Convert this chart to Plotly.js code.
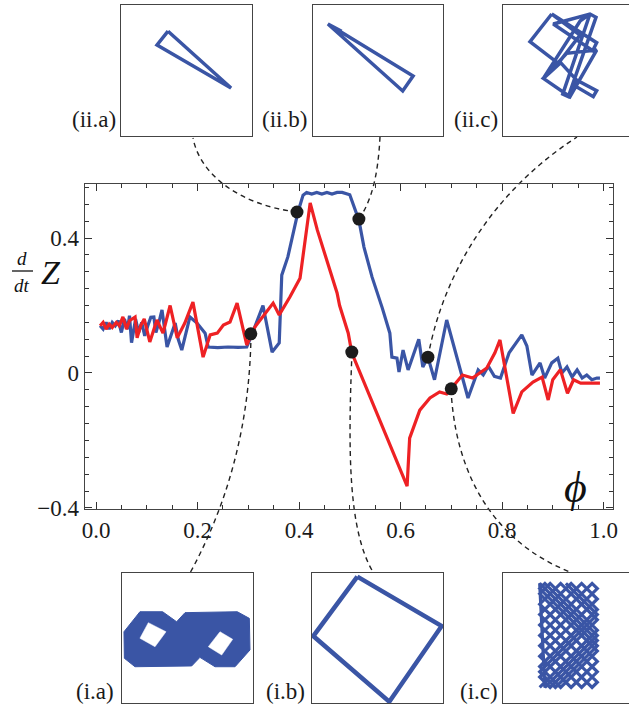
<!DOCTYPE html>
<html><head><meta charset="utf-8">
<script src="https://cdn.plot.ly/plotly-3.0.1.min.js"></script>
<style>html,body{margin:0;padding:0;background:#fff}#chart{width:629px;height:704px}</style>
</head><body><div id="chart"></div>
<script>
// ---- main series (phi, dZ/dt) ----
const phiBlue = [0.008,0.014,0.020,0.026,0.032,0.038,0.044,0.050,0.056,0.062,0.066,0.070,0.078,0.084,0.090,0.096,0.102,0.108,0.114,0.118,0.124,0.130,0.140,0.156,0.162,0.169,0.185,0.199,0.215,0.221,0.240,0.260,0.280,0.297,0.307,0.329,0.347,0.361,0.366,0.378,0.398,0.408,0.415,0.425,0.435,0.445,0.455,0.465,0.475,0.485,0.500,0.518,0.528,0.544,0.564,0.579,0.583,0.593,0.597,0.605,0.615,0.625,0.636,0.644,0.654,0.667,0.691,0.733,0.753,0.763,0.773,0.785,0.797,0.814,0.839,0.849,0.859,0.875,0.884,0.898,0.910,0.918,0.928,0.938,0.948,0.958,0.967,0.977,0.987,0.993];
const zBlue   = [0.140,0.130,0.150,0.130,0.150,0.140,0.155,0.120,0.160,0.130,0.170,0.090,0.160,0.120,0.150,0.110,0.140,0.165,0.166,0.120,0.150,0.187,0.077,0.148,0.100,0.068,0.166,0.148,0.118,0.077,0.075,0.077,0.076,0.077,0.113,0.200,0.062,0.089,0.290,0.344,0.477,0.527,0.535,0.530,0.535,0.530,0.535,0.530,0.535,0.535,0.528,0.453,0.373,0.284,0.193,0.118,0.047,0.044,0.003,0.068,0.009,0.053,0.100,0.018,0.047,-0.020,0.157,-0.074,0.009,-0.006,0.020,-0.010,-0.015,0.060,0.113,0.080,-0.006,0.030,-0.015,0.030,0.044,0.000,0.018,-0.012,0.009,-0.015,-0.006,-0.020,-0.015,-0.015];
const phiRed  = [0.008,0.014,0.020,0.026,0.032,0.040,0.046,0.053,0.060,0.066,0.077,0.081,0.088,0.095,0.106,0.120,0.132,0.146,0.160,0.175,0.191,0.199,0.211,0.225,0.239,0.251,0.264,0.278,0.297,0.313,0.349,0.361,0.382,0.402,0.422,0.436,0.455,0.475,0.480,0.497,0.504,0.526,0.613,0.618,0.638,0.658,0.677,0.691,0.703,0.722,0.742,0.770,0.786,0.796,0.822,0.839,0.861,0.879,0.891,0.900,0.915,0.929,0.941,0.955,0.969,0.993];
const zRed    = [0.140,0.150,0.130,0.145,0.135,0.150,0.140,0.166,0.130,0.155,0.166,0.104,0.140,0.160,0.092,0.157,0.118,0.200,0.104,0.148,0.210,0.148,0.047,0.113,0.118,0.142,0.151,0.207,0.083,0.136,0.207,0.172,0.225,0.281,0.504,0.424,0.335,0.237,0.200,0.118,0.060,-0.021,-0.335,-0.193,-0.110,-0.074,-0.056,-0.062,-0.041,-0.006,-0.015,0.015,0.060,0.098,-0.120,-0.056,-0.027,-0.012,-0.080,-0.020,0.010,-0.060,-0.020,-0.030,-0.030,-0.030];
// highlighted states
const dotPhi = [0.396,0.518,0.305,0.504,0.654,0.700];
const dotZ   = [0.477,0.456,0.116,0.062,0.047,-0.047];
// inset labels
const insetLabels = ['(ii.a)','(ii.b)','(ii.c)','(i.a)','(i.b)','(i.c)'];
// inset trajectories (box units)
const iiaU = [0.359,0.275,0.840,0.359];
const iiaV = [0.800,0.695,0.366,0.800];
const iibU = [0.115,0.770,0.690,0.115,0.220];
const iibV = [0.855,0.458,0.344,0.855,0.800];
const iicU = [0.372,0.206,0.422,0.588,0.372,0.715,0.685,0.384,0.664,0.710,0.499,0.456,0.664,0.590,0.308,0.486,0.715,0.511,0.308,0.440,0.562,0.715,0.689,0.537,0.562];
const iicV = [0.931,0.720,0.555,0.771,0.931,0.712,0.651,0.855,0.931,0.906,0.300,0.320,0.931,0.880,0.440,0.631,0.656,0.300,0.440,0.560,0.427,0.346,0.300,0.389,0.427];
const iaOuterU = [0.015,0.137,0.310,0.417,0.481,0.880,0.972,0.977,0.863,0.710,0.595,0.532,0.099,0.018,0.015];
const iaOuterV = [0.548,0.702,0.702,0.625,0.695,0.702,0.651,0.408,0.279,0.279,0.351,0.285,0.279,0.344,0.548];
const iaHole1U = [0.201,0.336,0.252,0.137,0.201];
const iaHole1V = [0.618,0.548,0.433,0.498,0.618];
const iaHole2U = [0.748,0.845,0.761,0.659,0.748];
const iaHole2V = [0.548,0.490,0.369,0.433,0.548];
const ibU = [0.346,0.990,0.590,0.010,0.346];
const ibV = [0.972,0.592,0.010,0.515,0.972];
const icU = [0.28,0.72,0.36,0.28,0.72,0.44,0.28,0.72,0.52,0.28,0.72,0.60,0.28,0.72,0.68,0.28,0.68,0.72,0.28,0.60,0.72,0.28,0.52,0.72,0.28,0.44,0.72,0.28,0.36,0.72,0.28,0.32,0.72,0.32,0.28,0.72,0.40,0.28,0.72,0.48];
const icV = [0.12,0.56,0.92,0.84,0.40,0.12,0.28,0.72,0.92,0.68,0.24,0.12,0.44,0.88,0.92,0.52,0.12,0.16,0.60,0.92,0.80,0.36,0.12,0.32,0.76,0.92,0.64,0.20,0.12,0.48,0.92,0.12,0.52,0.92,0.88,0.44,0.12,0.24,0.68,0.92];

const W = 629, H = 704;
const PX = x => x / W, PY = y => 1 - y / H;
const BLUE = '#3a55a5', RED = '#ee2124', INK = '#1a1a1a';
const serif = 'Liberation Serif';

const traces = [
  {x: phiBlue, y: zBlue, mode: 'lines', line: {color: BLUE, width: 3.2}, xaxis: 'x', yaxis: 'y'},
  {x: phiRed, y: zRed, mode: 'lines', line: {color: RED, width: 3.2}, xaxis: 'x', yaxis: 'y'},
  {x: dotPhi, y: dotZ, mode: 'markers', marker: {color: '#1c1c1c', size: 13}, xaxis: 'x', yaxis: 'y'},
  {x: iiaU, y: iiaV, mode: 'lines', line: {color: BLUE, width: 3.5}, xaxis: 'x2', yaxis: 'y2'},
  {x: iibU, y: iibV, mode: 'lines', line: {color: BLUE, width: 3.5}, xaxis: 'x3', yaxis: 'y3'},
  {x: iicU, y: iicV, mode: 'lines', line: {color: BLUE, width: 3.5}, xaxis: 'x4', yaxis: 'y4'},
  {x: iaOuterU, y: iaOuterV, mode: 'lines', fill: 'toself', fillcolor: BLUE, line: {color: BLUE, width: 1}, xaxis: 'x5', yaxis: 'y5'},
  {x: iaHole1U, y: iaHole1V, mode: 'lines', fill: 'toself', fillcolor: '#fff', line: {color: '#fff', width: 0.5}, xaxis: 'x5', yaxis: 'y5'},
  {x: iaHole2U, y: iaHole2V, mode: 'lines', fill: 'toself', fillcolor: '#fff', line: {color: '#fff', width: 0.5}, xaxis: 'x5', yaxis: 'y5'},
  {x: ibU, y: ibV, mode: 'lines', line: {color: BLUE, width: 4.5}, xaxis: 'x6', yaxis: 'y6'},
  {x: icU, y: icV, mode: 'lines', line: {color: BLUE, width: 3.2}, xaxis: 'x7', yaxis: 'y7'}
].map(t => Object.assign({hoverinfo: 'skip', showlegend: false, type: 'scatter'}, t));

function insetAxis(dom, rng, mirror) {
  return {domain: dom, range: rng, showticklabels: false, ticks: '', showgrid: false, zeroline: false,
          showline: true, mirror: mirror, linecolor: '#444', linewidth: 1.3, fixedrange: true};
}
// inset boxes in pixels: [left, top, right, bottom]
const boxes = [[121,5,252,136],[313,5,443,136],[503,5,634,136],[122,573,253,703],[312,573,443,703],[503,573,634,703]];
const layout = {
  width: W, height: H, margin: {l: 0, r: 0, t: 0, b: 0}, paper_bgcolor: '#fff', plot_bgcolor: 'rgba(0,0,0,0)',
  showlegend: false,
  xaxis: {domain: [PX(85), PX(613)], range: [-0.0217, 1.0187], tick0: 0, dtick: 0.2, tickformat: '.1f',
          ticks: 'inside', ticklen: 7, tickcolor: '#333', showline: true, linecolor: '#444', linewidth: 1.3,
          mirror: 'ticks', showgrid: false, zeroline: false, anchor: 'y',
          minor: {dtick: 0.05, ticks: 'inside', ticklen: 4, tickcolor: '#333'},
          tickfont: {family: serif, size: 23, color: INK}},
  yaxis: {domain: [PY(509), PY(184)], range: [-0.403, 0.56], tick0: 0, dtick: 0.4,
          ticks: 'inside', ticklen: 7, tickcolor: '#333', showline: true, linecolor: '#444', linewidth: 1.3,
          mirror: 'ticks', showgrid: false, zeroline: false, anchor: 'x',
          minor: {dtick: 0.05, ticks: 'inside', ticklen: 4, tickcolor: '#333'},
          tickfont: {family: serif, size: 23, color: INK}},
  shapes: [], annotations: []
};
boxes.forEach((b, i) => {
  const n = i + 2;
  const cut = b[2] > W;
  const right = Math.min(b[2], W);
  const uMax = (right - b[0]) / (b[2] - b[0]);
  layout['xaxis' + n] = Object.assign(insetAxis([PX(b[0]), PX(right)], [0, uMax], true), {anchor: 'y' + n});
  layout['yaxis' + n] = Object.assign(insetAxis([PY(b[3]), PY(b[1])], [0, 1], cut ? false : true), {anchor: 'x' + n});
});
// inset labels
const labelPos = [[118,120],[309,120],[500,120],[116,691],[307,691],[500,691]];
labelPos.forEach((p, i) => layout.annotations.push({
  text: insetLabels[i], xref: 'paper', yref: 'paper', x: PX(p[0]), y: PY(p[1]), xanchor: 'right', yanchor: 'middle',
  showarrow: false, font: {family: serif, size: 23, color: INK}
}));
// axis labels
layout.annotations.push({text: '<i>ϕ</i>', xref: 'paper', yref: 'paper', x: PX(575), y: PY(487), xanchor: 'center', yanchor: 'middle', showarrow: false, font: {family: serif, size: 44, color: '#111'}});
layout.annotations.push({text: '<i>d</i>', xref: 'paper', yref: 'paper', x: PX(22), y: PY(258), xanchor: 'center', yanchor: 'middle', borderpad: 0, showarrow: false, font: {family: serif, size: 19, color: '#111'}});
layout.annotations.push({text: '<i>dt</i>', xref: 'paper', yref: 'paper', x: PX(22), y: PY(285), xanchor: 'center', yanchor: 'middle', borderpad: 0, showarrow: false, font: {family: serif, size: 19, color: '#111'}});
layout.annotations.push({text: '<i>Z</i>', xref: 'paper', yref: 'paper', x: PX(51), y: PY(272), xanchor: 'center', yanchor: 'middle', borderpad: 0, showarrow: false, font: {family: serif, size: 34, color: '#111'}});
layout.shapes.push({type: 'line', xref: 'paper', yref: 'paper', x0: PX(12), x1: PX(33), y0: PY(271), y1: PY(271), line: {color: '#111', width: 1.3}});
// dashed connectors (pixel control points)
const connectors = [
  [[297,212],[240,205],[200,175],[193,138]],
  [[359,219],[372,200],[378,175],[380,137]],
  [[428,357],[440,290],[480,200],[577,137]],
  [[251,334],[250,420],[230,500],[190,573]],
  [[352,352],[348,450],[348,530],[373,572]],
  [[451,389],[455,470],[490,540],[570,572]]
];
connectors.forEach(c => {
  const s = c.map(p => PX(p[0]).toFixed(5) + ',' + PY(p[1]).toFixed(5));
  layout.shapes.push({type: 'path', xref: 'paper', yref: 'paper', layer: 'below',
    path: 'M' + s[0] + ' C' + s[1] + ' ' + s[2] + ' ' + s[3], line: {color: '#222', width: 1.4, dash: '5px,4px'}});
});
Plotly.newPlot('chart', traces, layout, {staticPlot: true, displayModeBar: false});
</script>
</body></html>
